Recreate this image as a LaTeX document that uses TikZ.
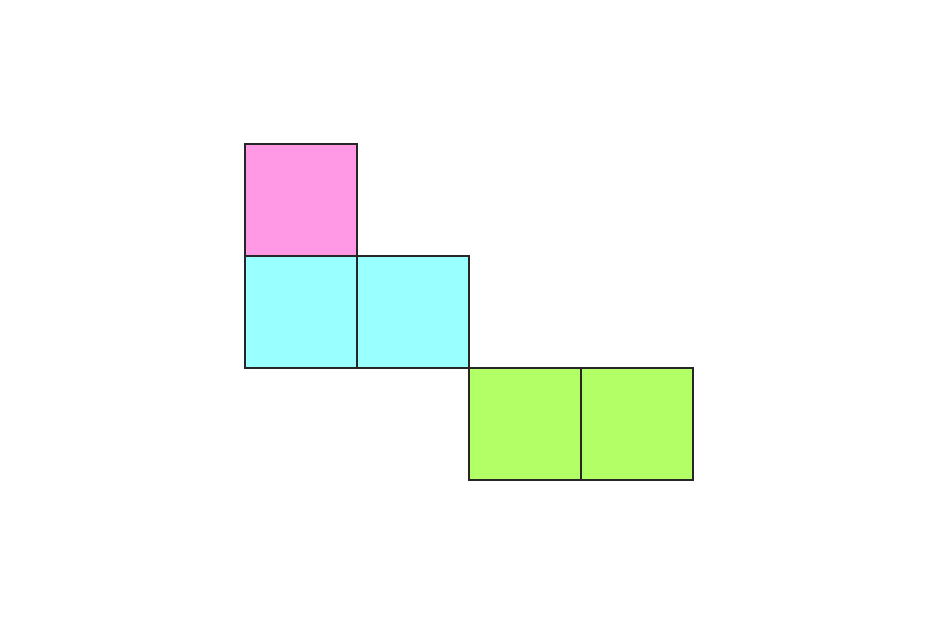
\documentclass[tikz,border=0pt]{standalone}
\definecolor{pinkc}{RGB}{255,153,230}
\definecolor{cyanc}{RGB}{153,255,255}
\definecolor{greenc}{RGB}{178,255,102}
\begin{document}
\begin{tikzpicture}[x=1pt,y=-1pt,
  cell/.style={draw=black!85,line width=1.2pt}]
\useasboundingbox (0,0) rectangle (938,625);
\fill[white] (0,0) rectangle (938,625);
\filldraw[cell,fill=pinkc] (245,144) rectangle (357,256);
\filldraw[cell,fill=cyanc] (245,256) rectangle (357,368);
\filldraw[cell,fill=cyanc] (357,256) rectangle (469,368);
\filldraw[cell,fill=greenc] (469,368) rectangle (581,480);
\filldraw[cell,fill=greenc] (581,368) rectangle (693,480);
\end{tikzpicture}
\end{document}
